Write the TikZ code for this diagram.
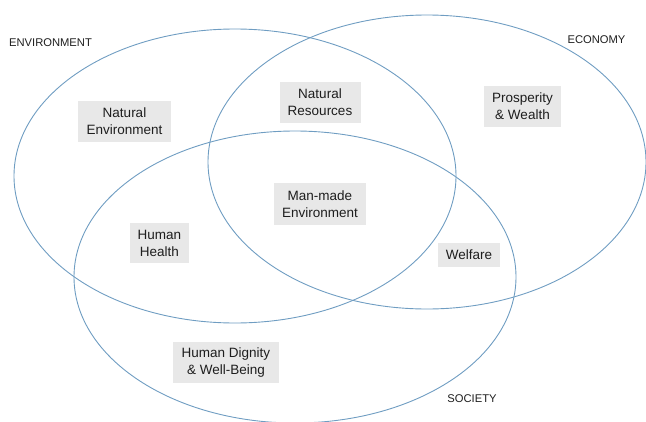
\documentclass[tikz,border=0pt]{standalone}
\usepackage{fontspec}
\setmainfont{Liberation Sans}
\begin{document}
\begin{tikzpicture}[x=1pt,y=-1pt,
  ring/.style={draw=ringblue,line width=0.9pt},
  box/.style={fill=boxgray,text=textdark,align=center,inner sep=0pt,font=\fontsize{13.5}{17}\selectfont},
  setlabel/.style={text=textdark,inner sep=0pt,font=\fontsize{11.2}{13}\selectfont}]
\definecolor{ringblue}{HTML}{6F9DC2}
\definecolor{boxgray}{HTML}{E8E8E8}
\definecolor{textdark}{HTML}{1E1E1E}
\useasboundingbox (0,0) rectangle (646,421);
\clip (0,0) rectangle (646,421);
\draw[ring] (235,176) ellipse [x radius=221pt, y radius=147pt];
\draw[ring] (427,162) ellipse [x radius=219pt, y radius=147pt];
\draw[ring] (295,277) ellipse [x radius=221pt, y radius=146pt];
\node[setlabel] (env) at (50.5,43) {ENVIRONMENT};
\node[setlabel] (eco) at (596.5,40) {ECONOMY};
\node[setlabel] (soc) at (472,399) {SOCIETY};
\node[box,minimum width=93pt,minimum height=41pt] (natenv) at (124.5,121.5) {Natural\\Environment};
\node[box,minimum width=81pt,minimum height=41pt] (natres) at (320,102.5) {Natural\\Resources};
\node[box,minimum width=77pt,minimum height=41pt] (prosp) at (522.5,106.5) {Prosperity\\\& Wealth};
\node[box,minimum width=92pt,minimum height=42pt] (manmade) at (320,204) {Man-made\\Environment};
\node[box,minimum width=59pt,minimum height=40pt] (health) at (159.5,243) {Human\\Health};
\node[box,minimum width=62pt,minimum height=24pt] (welfare) at (469,255) {Welfare};
\node[box,minimum width=106pt,minimum height=41pt] (dignity) at (226,362.5) {Human Dignity\\\& Well-Being};
\end{tikzpicture}
\end{document}
